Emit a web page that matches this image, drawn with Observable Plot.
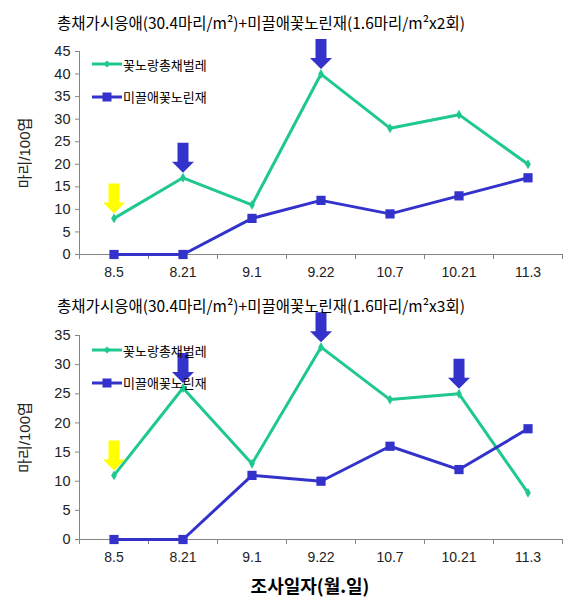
<!DOCTYPE html>
<html><head><meta charset="utf-8">
<script src="https://cdn.jsdelivr.net/npm/d3@7"></script>
<script src="https://cdn.jsdelivr.net/npm/@observablehq/plot@0.6"></script>
<style>
body{margin:0;background:#fff;}
#wrap{position:relative;width:574px;height:604px;overflow:hidden;background:#fff;}
.title{position:absolute;font-family:"Noto Sans CJK KR",sans-serif;font-size:15.5px;white-space:nowrap;transform:translate(-50%,-50%);color:#000;}
.xtitle{position:absolute;font-family:"Noto Sans CJK KR",sans-serif;font-size:18px;font-weight:bold;white-space:nowrap;transform:translate(-50%,-50%);color:#000;}
.chart{position:absolute;left:0;}
.leg{position:absolute;left:92px;display:flex;align-items:center;transform:translateY(-50%);font-family:"Noto Sans CJK KR",sans-serif;font-size:13px;color:#000;}
.leg svg{display:block;margin-right:1px;}
</style>
</head><body>
<div id="wrap"></div>
<script>
// ---- data ----
const dates = ["8.5", "8.21", "9.1", "9.22", "10.7", "10.21", "11.3"];
const seriesNames = ["꽃노랑총채벌레", "미끌애꽃노린재"];
const thripsA = [8, 17, 11, 40, 28, 31, 20];
const bugA = [0, 0, 8, 12, 9, 13, 17];
const thripsB = [11, 26, 13, 33, 24, 25, 8];
const bugB = [0, 0, 11, 10, 16, 12, 19];
const yTicksA = [0, 5, 10, 15, 20, 25, 30, 35, 40, 45];
const yTicksB = [0, 5, 10, 15, 20, 25, 30, 35];
const arrowDatesA = ["8.5", "8.21", "9.22"];
const arrowKindsA = ["yellow", "blue", "blue"];
const arrowDatesB = ["8.5", "8.21", "9.22", "10.21"];
const arrowKindsB = ["yellow", "blue", "blue", "blue"];
const titleA = "총채가시응애(30.4마리/m²)+미끌애꽃노린재(1.6마리/m²x2회)";
const titleB = "총채가시응애(30.4마리/m²)+미끌애꽃노린재(1.6마리/m²x3회)";
const yLabel = "마리/100엽";
const xTitle = "조사일자(월.일)";

const GREEN = "#1ec88e", BLUE = "#3333cc", YELLOW = "#ffff00", AXIS = "#868686";
const arrowFill = {yellow: YELLOW, blue: BLUE};

const arrowShape = {
  draw(context, l) {
    const sw = 5.5, hw = 11, hl = 11;
    context.moveTo(-sw, 0);
    context.lineTo(-sw, -l + hl);
    context.lineTo(-hw, -l + hl);
    context.lineTo(0, -l);
    context.lineTo(hw, -l + hl);
    context.lineTo(sw, -l + hl);
    context.lineTo(sw, 0);
    context.closePath();
  }
};

function makeChart(thrips, bug, yTicks, arrowDates, arrowKinds, top, marginTop, height, marginBottom) {
  const rows = dates.map((d, i) => ({i, date: d, thrips: thrips[i], bug: bug[i]}));
  const arrows = arrowDates.map((d, k) => {
    const i = dates.indexOf(d);
    return {i, y: thrips[i], kind: arrowKinds[k]};
  });
  const X = (d) => d.i + 0.5;
  const marks = [
    Plot.ruleY([0], {stroke: AXIS}),
    Plot.ruleX([0], {stroke: AXIS}),
    Plot.axisY(yTicks, {tickSize: 4, tickPadding: 5, stroke: AXIS, fill: "#222", fontSize: 14.5, label: null}),
    Plot.axisX(d3.range(dates.length + 1), {tickSize: 5, stroke: AXIS, tickFormat: () => "", label: null}),
    Plot.axisX(d3.range(dates.length).map(i => i + 0.5), {tickSize: 0, tickPadding: 13, fill: "#222", fontSize: 14, tickFormat: (v) => dates[Math.floor(v)], label: null}),
    Plot.text([yLabel], {frameAnchor: "left", rotate: -90, dx: -54, textAnchor: "middle", fontSize: 15, fill: "#222"}),
    Plot.line(rows, {x: X, y: "thrips", stroke: GREEN, strokeWidth: 3}),
    Plot.dot(rows, {x: X, y: "thrips", symbol: "diamond", r: 3, fill: GREEN}),
    Plot.line(rows, {x: X, y: "bug", stroke: BLUE, strokeWidth: 3}),
    Plot.dot(rows, {x: X, y: "bug", symbol: "square", r: 5.2, fill: BLUE}),
  ];
  for (const kind of ["yellow", "blue"]) {
    marks.push(Plot.vector(arrows.filter(a => a.kind === kind), {
      x: X, y: "y", length: 30, rotate: 180, anchor: "end", shape: arrowShape,
      fill: arrowFill[kind], stroke: "none", dy: -5
    }));
  }
  const svg = Plot.plot({
    width: 574, height, marginLeft: 79, marginRight: 12, marginTop, marginBottom,
    style: {fontFamily: '"Liberation Sans", Arial, "Noto Sans CJK KR", sans-serif', fontSize: "14px", background: "transparent", overflow: "visible"},
    x: {type: "linear", domain: [0, dates.length], axis: null},
    y: {domain: [0, yTicks[yTicks.length - 1]], axis: null},
    marks
  });
  svg.classList.add("chart");
  svg.style.top = top + "px";
  return svg;
}

function legend(y) {
  const items = [
    {name: seriesNames[0], color: GREEN, sym: "diamond"},
    {name: seriesNames[1], color: BLUE, sym: "square"}
  ];
  return items.map((it, k) => {
    const div = document.createElement("div");
    div.className = "leg";
    div.style.top = (y + k * 32.5) + "px";
    const marker = it.sym === "diamond"
      ? `<path d="M15,10.5 L18.5,14 L15,17.5 L11.5,14 Z" fill="${it.color}"/>`
      : `<rect x="10.5" y="9.5" width="9" height="9" fill="${it.color}"/>`;
    div.innerHTML = `<svg width="30" height="28" viewBox="0 0 30 28"><line x1="0" y1="14" x2="30" y2="14" stroke="${it.color}" stroke-width="3"/>${marker}</svg><span>${it.name}</span>`;
    return div;
  });
}

const wrap = document.getElementById("wrap");
function addText(cls, text, x, y) {
  const d = document.createElement("div");
  d.className = cls; d.textContent = text;
  d.style.left = x + "px"; d.style.top = y + "px";
  wrap.appendChild(d);
}
wrap.appendChild(makeChart(thripsA, bugA, yTicksA, arrowDatesA, arrowKindsA, 30, 21, 254, 30));
wrap.appendChild(makeChart(thripsB, bugB, yTicksB, arrowDatesB, arrowKindsB, 312, 23, 259, 32));
addText("title", titleA, 261, 22);
addText("title", titleB, 261, 305);
addText("xtitle", xTitle, 310, 585);
legend(64).forEach(d => wrap.appendChild(d));
legend(350).forEach(d => wrap.appendChild(d));
</script>
</body></html>
